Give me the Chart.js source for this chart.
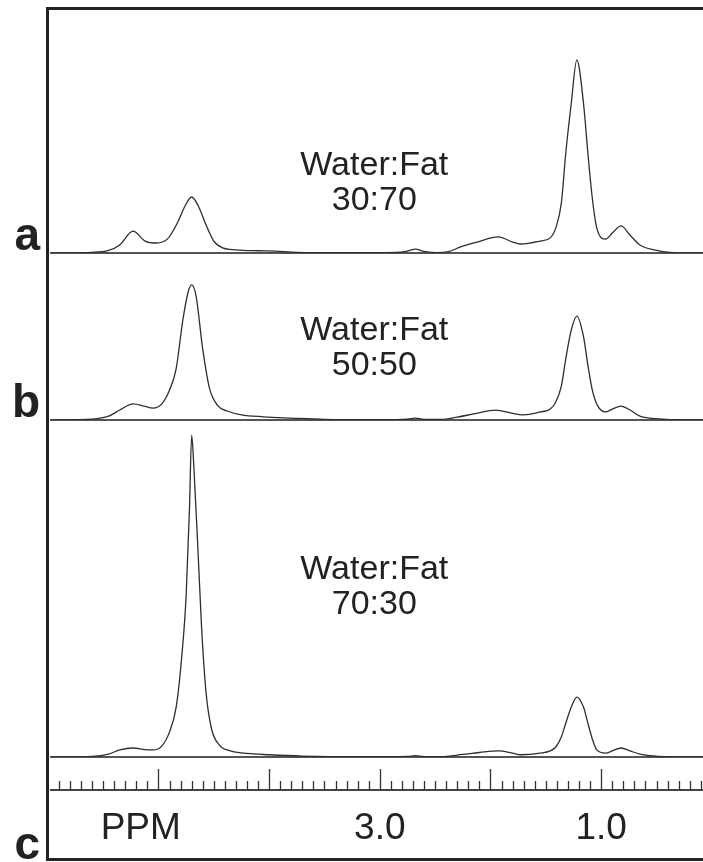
<!DOCTYPE html>
<html>
<head>
<meta charset="utf-8">
<title>Water:Fat spectra</title>
<script src="https://cdn.jsdelivr.net/npm/chart.js@4"></script>
<style>
  html, body { margin: 0; padding: 0; background: #fff; }
  canvas { display: block; }
</style>
</head>
<body>
<canvas id="spectraChart" width="703" height="862"></canvas>
<script>
// Chemical shift (ppm) and intensity (% of tallest peak), left to right
const shiftA = [5.97, 5.60, 5.45, 5.35, 5.23, 5.12, 5.02, 4.92, 4.83, 4.76, 4.70, 4.64, 4.57, 4.50, 4.42, 4.30, 4.10, 3.95, 3.75, 3.30, 2.85, 2.75, 2.68, 2.60, 2.48, 2.38, 2.27, 2.12, 1.93, 1.80, 1.73, 1.55, 1.46, 1.41, 1.36, 1.32, 1.27, 1.22, 1.16, 1.12, 1.08, 1.04, 0.96, 0.90, 0.82, 0.74, 0.65, 0.51, 0.38, 0.08];
const intensityA = [0, 0.2, 0.8, 2.5, 6.8, 3.7, 3.1, 4.3, 9.3, 14.6, 17.4, 14.6, 8.7, 3.7, 1.6, 1.0, 0.7, 0.6, 0.2, 0.1, 0.2, 0.6, 1.2, 0.5, 0.1, 0.4, 1.9, 3.4, 5.0, 3.4, 2.8, 3.7, 4.7, 7.8, 15.5, 31, 46.6, 60, 46.6, 31, 17, 7.8, 4.3, 6.2, 8.4, 5.6, 2.5, 0.9, 0.2, 0];

const shiftB = [5.97, 5.60, 5.45, 5.35, 5.23, 5.12, 5.05, 4.97, 4.90, 4.84, 4.78, 4.73, 4.70, 4.66, 4.60, 4.54, 4.46, 4.38, 4.25, 4.05, 3.80, 3.50, 3.00, 2.75, 2.68, 2.60, 2.45, 2.30, 2.15, 1.95, 1.82, 1.70, 1.55, 1.46, 1.41, 1.36, 1.32, 1.27, 1.22, 1.16, 1.12, 1.08, 1.03, 0.96, 0.90, 0.82, 0.74, 0.65, 0.51, 0.38, 0.08];
const intensityB = [0, 0.3, 1.2, 3.1, 5.0, 4.2, 3.7, 5.0, 9.3, 16, 31, 40, 42, 38.5, 22, 10, 4.3, 2.8, 1.6, 1.0, 0.6, 0.2, 0.1, 0.3, 0.6, 0.2, 0.2, 0.9, 1.9, 3.1, 2.2, 1.6, 2.5, 3.4, 5.6, 10.5, 19, 28, 32.3, 26, 17, 9.3, 4.3, 2.5, 3.4, 4.3, 3.1, 1.2, 0.4, 0.1, 0];

const shiftC = [5.97, 5.60, 5.45, 5.35, 5.23, 5.12, 5.05, 4.97, 4.90, 4.84, 4.79, 4.75, 4.72, 4.70, 4.68, 4.64, 4.61, 4.57, 4.52, 4.45, 4.35, 4.20, 4.00, 3.70, 3.20, 2.75, 2.68, 2.60, 2.45, 2.25, 2.10, 1.93, 1.80, 1.73, 1.55, 1.46, 1.41, 1.36, 1.32, 1.27, 1.22, 1.16, 1.12, 1.08, 1.04, 0.96, 0.90, 0.82, 0.74, 0.65, 0.51, 0.38, 0.08];
const intensityC = [0, 0.2, 0.9, 2.2, 2.8, 2.3, 2.2, 3.4, 7.8, 15.5, 31, 50, 77, 100, 90, 62, 40, 20, 8.7, 3.7, 1.9, 1.1, 0.7, 0.3, 0.1, 0.2, 0.4, 0.1, 0.1, 0.8, 1.4, 1.9, 1.2, 0.7, 1.2, 1.9, 3.1, 6.2, 10.5, 15.5, 18.6, 15.5, 10.5, 5.6, 2.2, 1.2, 1.9, 2.8, 1.9, 0.9, 0.3, 0.1, 0];

// Panel letters and sample labels
const panelLetters = ['a', 'b', 'c'];
const noteTitle = 'Water:Fat';
const ratioLabels = ['30:70', '50:50', '70:30'];

// Axis labels and ruler ticks (ppm)
const axisLabels = ['PPM', '3.0', '1.0'];
const axisLabelShifts = [5.16, 3.0, 1.0];
const majorTicks = [5, 4, 3, 2, 1];
const minorStep = 0.1;

const INK = '#222';
const FONT = '"Liberation Sans", Arial, Helvetica, sans-serif';

function toPoints(xs, ys) {
    return xs.map((x, i) => ({ x: x, y: ys[i] }));
}

// y scale for one panel: only a baseline at zero, no labels
function panelScale(top, weight, max) {
    return {
        type: 'linear',
        position: 'left',
        stack: 'panels',
        stackWeight: weight,
        weight: top,
        min: 0,
        max: max,
        ticks: { display: false },
        border: { display: false },
        grid: { drawTicks: false, color: '#555', lineWidth: 2 },
        afterBuildTicks: scale => { scale.ticks = [{ value: 0 }]; }
    };
}

// Ruler, frame, panel letters and sample notes
const decorPlugin = {
    id: 'decor',
    afterDraw(chart) {
        const ctx = chart.ctx;
        const x = chart.scales.x;
        const area = chart.chartArea;
        const rulerY = x.top + 33;

        ctx.save();
        // ruler
        ctx.strokeStyle = '#444';
        ctx.lineWidth = 2;
        ctx.beginPath();
        ctx.moveTo(area.left, rulerY);
        ctx.lineTo(area.right, rulerY);
        ctx.stroke();

        ctx.lineWidth = 1.3;
        ctx.strokeStyle = '#333';
        for (let i = 1; i * minorStep < 6; i++) {
            const v = Math.round(i * minorStep * 10) / 10;
            const px = Math.round(x.getPixelForValue(v)) + 0.5;
            if (px < area.left || px > area.right) continue;
            const len = majorTicks.includes(v) ? 21 : 9;
            ctx.beginPath();
            ctx.moveTo(px, rulerY);
            ctx.lineTo(px, rulerY - len);
            ctx.stroke();
        }

        // frame
        ctx.strokeStyle = INK;
        ctx.lineWidth = 3;
        ctx.strokeRect(area.left - 2.5, area.top - 0.5, chart.width + 10, chart.height - area.top - 2);

        // panel letters
        ctx.fillStyle = INK;
        ctx.font = 'bold 46px ' + FONT;
        ctx.textAlign = 'right';
        ctx.textBaseline = 'alphabetic';
        const ids = ['yA', 'yB', 'yC'];
        ids.forEach((id, i) => {
            const bottom = i < 2 ? chart.scales[id].bottom - 3 : chart.height - 3;
            ctx.fillText(panelLetters[i], area.left - 10, bottom);
        });

        // sample notes
        const noteLevels = [24.2, 24.8, 55.3];
        ctx.font = '34px ' + FONT;
        ctx.textAlign = 'center';
        const cx = x.getPixelForValue(3.05);
        ids.forEach((id, i) => {
            const y = chart.scales[id].getPixelForValue(noteLevels[i]);
            ctx.fillText(noteTitle, cx, y);
            ctx.fillText(ratioLabels[i], cx, y + 35);
        });
        ctx.restore();
    }
};

const lineStyle = {
    borderColor: '#2e2e2e',
    borderWidth: 1.3,
    pointRadius: 0,
    fill: false,
    cubicInterpolationMode: 'monotone'
};

new Chart(document.getElementById('spectraChart'), {
    type: 'line',
    data: {
        datasets: [
            { ...lineStyle, label: ratioLabels[0], data: toPoints(shiftA, intensityA), yAxisID: 'yA' },
            { ...lineStyle, label: ratioLabels[1], data: toPoints(shiftB, intensityB), yAxisID: 'yB' },
            { ...lineStyle, label: ratioLabels[2], data: toPoints(shiftC, intensityC), yAxisID: 'yC' }
        ]
    },
    options: {
        responsive: false,
        animation: false,
        devicePixelRatio: 1,
        layout: { padding: { left: 50, top: 9, right: 0, bottom: 0 } },
        plugins: {
            legend: { display: false },
            tooltip: { enabled: false }
        },
        scales: {
            x: {
                type: 'linear',
                position: 'bottom',
                reverse: true,
                min: 0.08,
                max: 5.98,
                grid: { display: false, drawTicks: false },
                border: { display: false },
                ticks: {
                    autoSkip: false,
                    maxRotation: 0,
                    padding: 50,
                    color: INK,
                    font: { family: FONT, size: 37 },
                    callback: (value, index) => axisLabels[index]
                },
                afterBuildTicks: scale => {
                    scale.ticks = axisLabelShifts.map(v => ({ value: v }));
                },
                afterFit: scale => { scale.height = 105; }
            },
            yA: panelScale(3, 244, 75.8),
            yB: panelScale(2, 167, 51.9),
            yC: panelScale(1, 337, 104.7)
        }
    },
    plugins: [decorPlugin]
});
</script>
</body>
</html>
